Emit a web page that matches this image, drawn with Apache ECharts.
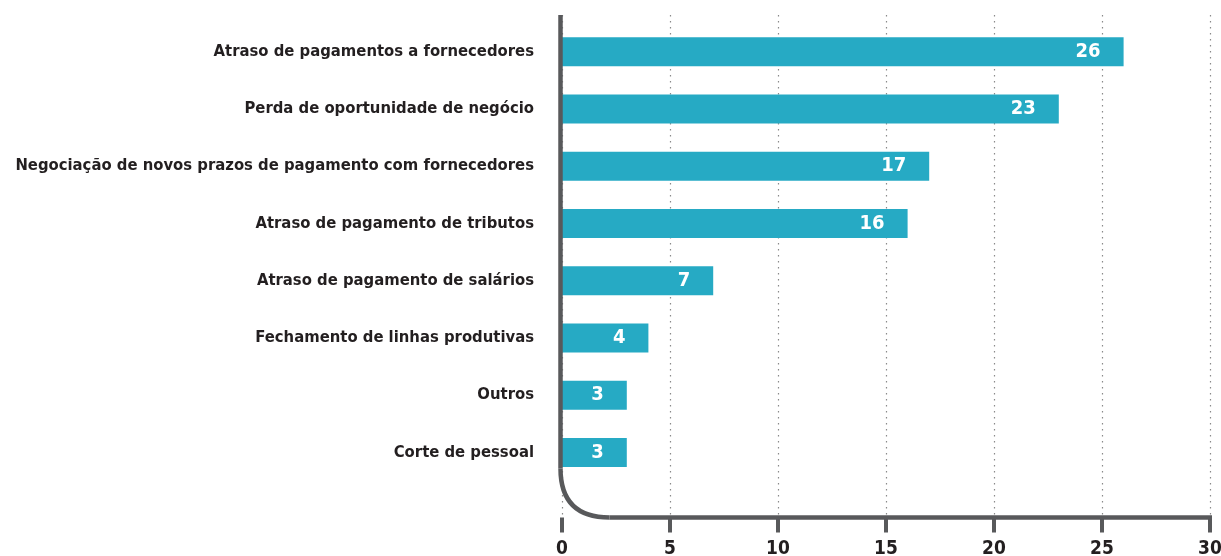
<!DOCTYPE html>
<html>
<head>
<meta charset="utf-8">
<script src="https://cdn.jsdelivr.net/npm/echarts@6/dist/echarts.min.js"></script>
<style>
  html, body { margin: 0; padding: 0; background: #fff; }
  #chart { width: 1221px; height: 556px; }
</style>
</head>
<body>
<div id="chart"></div>
<script>
var categories = [
    'Atraso de pagamentos a fornecedores',
    'Perda de oportunidade de negócio',
    'Negociação de novos prazos de pagamento com fornecedores',
    'Atraso de pagamento de tributos',
    'Atraso de pagamento de salários',
    'Fechamento de linhas produtivas',
    'Outros',
    'Corte de pessoal'
];
var values = [26, 23, 17, 16, 7, 4, 3, 3];
var axisMin = 0;
var axisMax = 30;
var axisStep = 5;

var FONT = "'Liberation Sans Narrow', 'DejaVu Sans Condensed', sans-serif";
var AXIS_COLOR = '#58595b';

var myChart = echarts.init(document.getElementById('chart'));

var option = {
    animation: false,
    grid: [
        { left: 562, right: 11, top: 23, bottom: 75, containLabel: false, outerBoundsMode: 'none' },
        { left: 562, right: 11, top: 15, bottom: 38.5, containLabel: false, outerBoundsMode: 'none' }
    ],
    xAxis: [
        { gridIndex: 0, type: 'value', min: axisMin, max: axisMax, show: false },
        {
            gridIndex: 1,
            type: 'value',
            min: axisMin,
            max: axisMax,
            interval: axisStep,
            axisLine: { show: false },
            axisTick: { show: true, length: 15, lineStyle: { color: AXIS_COLOR, width: 4 } },
            axisLabel: {
                margin: 22,
                color: '#231f20',
                fontFamily: FONT,
                fontWeight: 'bold',
                fontSize: 19
            },
            splitLine: { show: true, lineStyle: { color: '#8a8a8a', width: 1.2, type: [1.5, 4.5] } }
        }
    ],
    yAxis: [
        {
            gridIndex: 0,
            type: 'category',
            inverse: true,
            data: categories,
            axisLine: { show: false },
            axisTick: { show: false },
            axisLabel: {
                margin: 28,
                color: '#231f20',
                fontFamily: FONT,
                fontWeight: 'bold',
                fontSize: 16.5
            }
        },
        { gridIndex: 1, type: 'value', min: 0, max: 1, show: false }
    ],
    series: [
        {
            type: 'bar',
            xAxisIndex: 0,
            yAxisIndex: 0,
            data: values,
            barWidth: 29,
            itemStyle: { color: '#26aac4' },
            label: {
                show: true,
                position: 'insideRight',
                distance: 23,
                color: '#fff',
                fontFamily: FONT,
                fontWeight: 'bold',
                fontSize: 20
            }
        }
    ]
};
myChart.setOption(option);

// axis line with rounded corner, positioned from the axes' own scales
function drawAxisLine() {
    var x0 = myChart.convertToPixel({ xAxisIndex: 1 }, axisMin) - 1.5;
    var x1 = myChart.convertToPixel({ xAxisIndex: 1 }, axisMax);
    var yTop = myChart.convertToPixel({ yAxisIndex: 1 }, 1);
    var yBot = myChart.convertToPixel({ yAxisIndex: 1 }, 0);
    var r = 49;
    var stroke = { stroke: AXIS_COLOR, lineWidth: 4.5, fill: null };
    myChart.setOption({
        graphic: [
            {
                type: 'line', id: 'axisV', z: 10,
                shape: { x1: x0, y1: yTop, x2: x0, y2: yBot - r },
                style: stroke
            },
            {
                type: 'bezierCurve', id: 'axisCorner', z: 10,
                shape: { x1: x0, y1: yBot - r, cpx1: x0, cpy1: yBot, x2: x0 + r, y2: yBot },
                style: stroke
            },
            {
                type: 'line', id: 'axisH', z: 10,
                shape: { x1: x0 + r, y1: yBot, x2: x1 + 2, y2: yBot },
                style: stroke
            }
        ]
    });
}
drawAxisLine();

window.addEventListener('resize', function () {
    myChart.resize();
    drawAxisLine();
});
</script>
</body>
</html>
